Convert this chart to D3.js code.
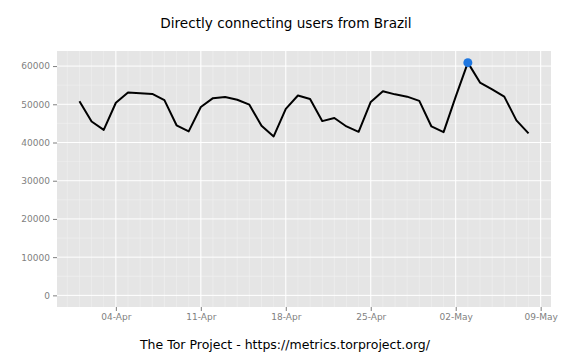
<!DOCTYPE html>
<html>
<head>
<meta charset="utf-8">
<script src="https://cdn.jsdelivr.net/npm/d3@7"></script>
<style>
  body { margin: 0; background: #fff; }
  text { font-family: "DejaVu Sans", sans-serif; }
</style>
</head>
<body>
<div id="chart"></div>
<script>
/* CONSTANTS AND GLOBALS */
const width = 575,
  height = 358,
  margin = { top: 51, bottom: 51, left: 57, right: 24 };

// daily values, 01-Apr to 08-May
const dates = [
  "2013-04-01", "2013-04-02", "2013-04-03", "2013-04-04", "2013-04-05", "2013-04-06", "2013-04-07",
  "2013-04-08", "2013-04-09", "2013-04-10", "2013-04-11", "2013-04-12", "2013-04-13", "2013-04-14",
  "2013-04-15", "2013-04-16", "2013-04-17", "2013-04-18", "2013-04-19", "2013-04-20", "2013-04-21",
  "2013-04-22", "2013-04-23", "2013-04-24", "2013-04-25", "2013-04-26", "2013-04-27", "2013-04-28",
  "2013-04-29", "2013-04-30", "2013-05-01", "2013-05-02", "2013-05-03", "2013-05-04", "2013-05-05",
  "2013-05-06", "2013-05-07", "2013-05-08"
];
const users = [
  50800, 45500, 43300, 50400, 53100, 52900, 52700,
  51100, 44500, 42900, 49300, 51600, 51900, 51200,
  49900, 44400, 41600, 48800, 52300, 51400, 45600,
  46400, 44200, 42800, 50600, 53400, 52600, 52000,
  50900, 44200, 42700, 52000, 60900, 55700, 53900,
  52000, 45800, 42400
];
const yTicks = [0, 10000, 20000, 30000, 40000, 50000, 60000];
const xTickDates = ["2013-04-04", "2013-04-11", "2013-04-18", "2013-04-25", "2013-05-02", "2013-05-09"];

const parse = d3.timeParse("%Y-%m-%d");
const data = dates.map((d, i) => ({ date: parse(d), value: users[i] }));

const svg = d3.select("#chart").append("svg")
  .attr("width", width)
  .attr("height", height);

// ggplot-style 5% expansion
const xExt = d3.extent(data, d => d.date);
const xPad = (xExt[1] - xExt[0]) * 0.05;
const xScale = d3.scaleTime()
  .domain([new Date(+xExt[0] - xPad), new Date(+xExt[1] + xPad)])
  .range([margin.left, width - margin.right]);

const yMax = d3.max(users);
const yPad = yMax * 0.05;
const yScale = d3.scaleLinear()
  .domain([-yPad, yMax + yPad])
  .range([height - margin.bottom, margin.top]);

// panel background
svg.append("rect")
  .attr("x", margin.left)
  .attr("y", margin.top)
  .attr("width", width - margin.left - margin.right)
  .attr("height", height - margin.top - margin.bottom)
  .attr("fill", "#e5e5e5");

// minor grid: every day, every 5000
const minorX = d3.timeDay.range(xScale.domain()[0], xScale.domain()[1]);
svg.append("g").selectAll("line")
  .data(minorX)
  .join("line")
  .attr("x1", d => xScale(d)).attr("x2", d => xScale(d))
  .attr("y1", margin.top).attr("y2", height - margin.bottom)
  .attr("stroke", "#f2f2f2")
  .attr("stroke-width", 0.5);

const minorY = d3.range(5000, yMax + yPad, 10000);
svg.append("g").selectAll("line")
  .data(minorY)
  .join("line")
  .attr("x1", margin.left).attr("x2", width - margin.right)
  .attr("y1", d => yScale(d)).attr("y2", d => yScale(d))
  .attr("stroke", "#f2f2f2")
  .attr("stroke-width", 0.5);

// major grid
const xTicks = xTickDates.map(parse);
svg.append("g").selectAll("line")
  .data(xTicks)
  .join("line")
  .attr("x1", d => xScale(d)).attr("x2", d => xScale(d))
  .attr("y1", margin.top).attr("y2", height - margin.bottom)
  .attr("stroke", "#fff");

svg.append("g").selectAll("line")
  .data(yTicks)
  .join("line")
  .attr("x1", margin.left).attr("x2", width - margin.right)
  .attr("y1", d => yScale(d)).attr("y2", d => yScale(d))
  .attr("stroke", "#fff");

// axes
const xAxis = d3.axisBottom(xScale)
  .tickValues(xTicks)
  .tickFormat(d3.timeFormat("%d-%b"))
  .tickSize(4)
  .tickPadding(3);
const yAxis = d3.axisLeft(yScale)
  .tickValues(yTicks)
  .tickFormat(d3.format("d"))
  .tickSize(4)
  .tickPadding(3);

svg.append("g")
  .attr("transform", `translate(0,${height - margin.bottom})`)
  .call(xAxis)
  .call(g => g.select(".domain").remove());

svg.append("g")
  .attr("transform", `translate(${margin.left},0)`)
  .call(yAxis)
  .call(g => g.select(".domain").remove());

svg.selectAll(".tick line").attr("stroke", "#7f7f7f");
svg.selectAll(".tick text")
  .attr("fill", "#7f7f7f")
  .attr("font-size", "9px")
  .attr("font-family", "DejaVu Sans, sans-serif");

// line
const line = d3.line()
  .x(d => xScale(d.date))
  .y(d => yScale(d.value));

svg.append("path")
  .datum(data)
  .attr("d", line)
  .attr("fill", "none")
  .attr("stroke", "#000")
  .attr("stroke-width", 2)
  .attr("stroke-linejoin", "round");

// highlight the maximum
const peak = data[d3.maxIndex(data, d => d.value)];
svg.append("circle")
  .attr("cx", xScale(peak.date))
  .attr("cy", yScale(peak.value))
  .attr("r", 4.5)
  .attr("fill", "#1f77e0");

// title and caption
svg.append("text")
  .attr("x", 286)
  .attr("y", 28)
  .attr("text-anchor", "middle")
  .attr("font-size", "13.6px")
  .attr("fill", "#000")
  .text("Directly connecting users from Brazil");

svg.append("text")
  .attr("x", 285)
  .attr("y", 349)
  .attr("text-anchor", "middle")
  .attr("font-size", "12.5px")
  .attr("fill", "#000")
  .text("The Tor Project - https://metrics.torproject.org/");
</script>
</body>
</html>
